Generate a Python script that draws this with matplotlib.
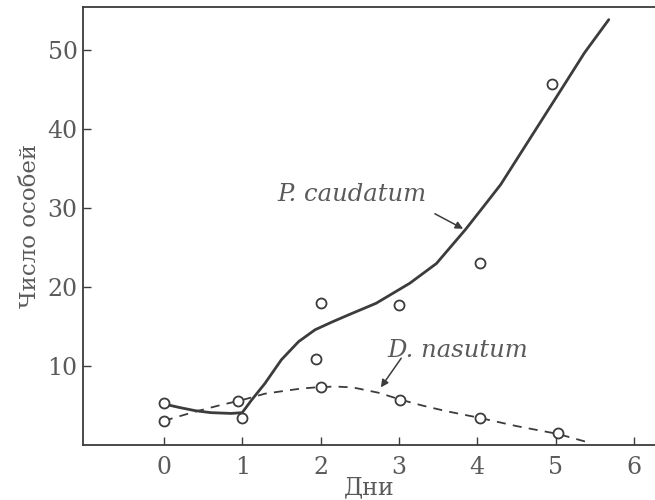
import numpy as np
import matplotlib.pyplot as plt

# Gause experiment: P. caudatum vs D. nasutum
days_obs = [0, 1, 2, 1.94, 3, 4.03, 4.95]
caudatum_obs = [5.3, 3.4, 18.0, 10.9, 17.7, 23.1, 45.7]

nasutum_days = [0, 0.95, 2, 3.02, 4.03, 5.03]
nasutum_obs = [3.1, 5.6, 7.4, 5.7, 3.4, 1.5]

# hand-drawn trend curves
caudatum_curve_x = [0.0, 0.2, 0.4, 0.6, 0.86, 1.0, 1.12, 1.29, 1.5, 1.72, 1.93,
                    2.15, 2.36, 2.71, 3.14, 3.48, 3.85, 4.08, 4.3, 4.64, 5.07,
                    5.37, 5.68]
caudatum_curve_y = [5.2, 4.75, 4.35, 4.1, 4.0, 4.1, 5.7, 7.8, 10.8, 13.1, 14.6,
                    15.6, 16.5, 17.96, 20.5, 23.0, 27.3, 30.2, 33.0, 38.3, 45.0,
                    49.7, 53.9]

nasutum_curve_x = [0.0, 0.39, 0.7, 1.0, 1.29, 1.5, 1.75, 2.0, 2.2, 2.41, 2.75,
                   3.02, 3.3, 3.6, 4.03, 4.5, 5.03, 5.43]
nasutum_curve_y = [3.06, 4.2, 5.0, 5.7, 6.5, 6.8, 7.15, 7.35, 7.4, 7.3, 6.6,
                   5.75, 5.0, 4.3, 3.44, 2.4, 1.4, 0.3]

x_ticks = [0, 1, 2, 3, 4, 5, 6]
y_ticks = [10, 20, 30, 40, 50]

ink = "#3c3c3c"
txt = "#5a5a5a"
plt.rcParams["font.family"] = ["DejaVu Serif"]

fig = plt.figure(figsize=(6.55, 5.0), dpi=100)
ax = fig.add_axes([0.127, 0.110, 0.873, 0.876])

ax.plot(caudatum_curve_x, caudatum_curve_y, color=ink, lw=2.0,
        solid_joinstyle="round", solid_capstyle="round", zorder=2)
ax.plot(nasutum_curve_x, nasutum_curve_y, color=ink, lw=1.3,
        dashes=(5, 4), zorder=2)

ax.plot(days_obs, caudatum_obs, "o", ms=7.2, mfc="white", mec=ink,
        mew=1.3, zorder=3)
ax.plot(nasutum_days, nasutum_obs, "o", ms=7.2, mfc="white", mec=ink,
        mew=1.3, zorder=3)

ax.text(1.45, 31.7, "P. caudatum", fontsize=17.5, style="italic",
        color=txt, ha="left", va="center")
ax.annotate("", xy=(3.82, 27.4), xytext=(3.46, 29.3),
            arrowprops=dict(arrowstyle="-|>", color=ink, lw=1.1,
                            mutation_scale=11, shrinkA=0, shrinkB=0))
ax.text(2.85, 12.0, "D. nasutum", fontsize=17.5, style="italic",
        color=txt, ha="left", va="center")
ax.annotate("", xy=(2.77, 7.3), xytext=(3.03, 11.0),
            arrowprops=dict(arrowstyle="-|>", color=ink, lw=1.1,
                            mutation_scale=11, shrinkA=0, shrinkB=0))

ax.set_xlim(-1.03, 6.27)
ax.set_ylim(0, 55.5)
ax.set_xticks(x_ticks)
ax.set_yticks(y_ticks)
ax.tick_params(direction="in", length=6, width=1, colors=ink,
               labelcolor=txt, labelsize=17)
ax.tick_params(axis="x", pad=8)
ax.tick_params(axis="y", pad=4)
for side in ("left", "bottom", "top"):
    ax.spines[side].set_color(ink)
    ax.spines[side].set_linewidth(1.3)
ax.spines["right"].set_visible(False)

ax.set_xlabel("Дни", fontsize=17, color=txt, labelpad=-2)
ax.set_ylabel("Число особей", fontsize=16.5, color=txt, labelpad=5)

fig.savefig("out.png", dpi=100)
